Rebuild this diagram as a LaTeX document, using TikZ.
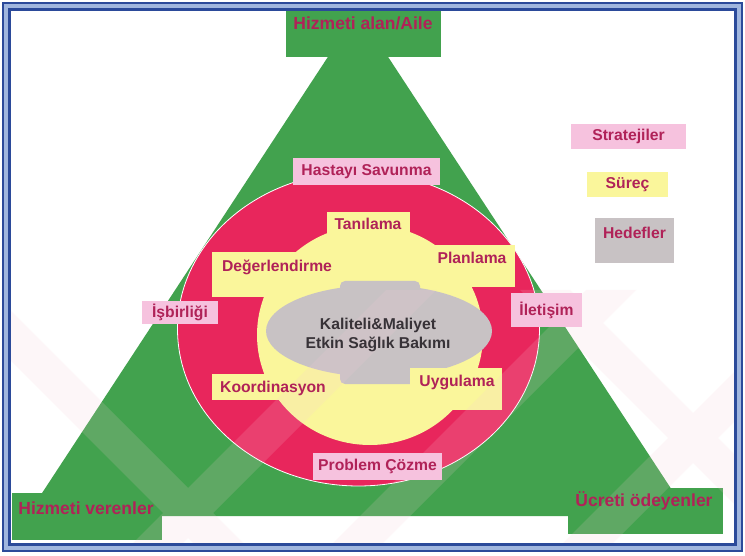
\documentclass[tikz,border=0pt]{standalone}
\usepackage{fontspec}
\setmainfont{Liberation Sans}
\definecolor{gr}{RGB}{66,162,78}
\definecolor{rd}{RGB}{232,38,92}
\definecolor{yl}{RGB}{250,246,155}
\definecolor{gy}{RGB}{200,194,196}
\definecolor{pk}{RGB}{246,194,222}
\definecolor{tx}{RGB}{176,34,88}
\definecolor{dk}{RGB}{55,50,55}
\definecolor{bl}{RGB}{43,74,154}
\definecolor{lb}{RGB}{160,182,222}
\definecolor{wm}{RGB}{248,205,215}
\tikzset{
  lab/.style={font=\fontsize{15.7}{19}\selectfont\bfseries, text=tx, inner sep=0pt},
  corner/.style={font=\fontsize{17.5}{20}\selectfont\bfseries, text=tx, inner sep=0pt},
  pbox/.style={lab, fill=pk},
  band/.style={fill=wm}
}
\begin{document}
\begin{tikzpicture}[x=1pt,y=-1pt]
\useasboundingbox (0,0) rectangle (745,556);
\fill[white] (0,0) rectangle (745,556);
% green triangle and corner boxes
\fill[gr] (358,11) -- (27,516) -- (689,516) -- cycle;
\fill[gr] (286,9) rectangle (441,57);
\fill[gr] (12,493) rectangle (162,540);
\fill[gr] (568,488) rectangle (723,534);
% red ellipse
\fill[rd, draw=white, line width=0.8pt] (358.5,329) ellipse [x radius=181pt, y radius=157pt];
% yellow process shape
\fill[yl] (370,335) ellipse [x radius=113pt, y radius=110pt];
\fill[yl] (327,212) rectangle (410,250);
\fill[yl] (212,252) rectangle (335,297);
\fill[yl] (427,245) rectangle (515,287);
\fill[yl] (212,374) rectangle (300,400);
% grey goal shape
\fill[gy] (379,331) ellipse [x radius=113pt, y radius=46pt];
\fill[gy, rounded corners=5pt] (340,281) rectangle (420,384);
\fill[yl] (410,368) rectangle (502,410);
% watermark bands
\begin{scope}[transparency group, opacity=0.16]
\clip (9,290) rectangle (736,545);
\fill[band] (-60,290) -- (-10,290) -- (246,546) -- (196,546) -- cycle;
\fill[band] (520,290) -- (570,290) -- (826,546) -- (776,546) -- cycle;
\fill[band] (130,546) -- (180,546) -- (436,290) -- (386,290) -- cycle;
\fill[band] (330,546) -- (380,546) -- (636,290) -- (586,290) -- cycle;
\fill[band] (560,546) -- (610,546) -- (866,290) -- (816,290) -- cycle;
\end{scope}
% corner labels
\node[corner] (aile) at (363,23) {Hizmeti alan/Aile};
\node[corner] (veren) at (86,508) {Hizmeti verenler};
\node[corner] (odeyen) at (644,501) {Ücreti ödeyenler};
% strategy boxes
\node[pbox, minimum width=147pt, minimum height=27pt] (savun) at (366.5,171.5) {Hastayı Savunma};
\node[pbox, minimum width=76pt, minimum height=23pt] (isbir) at (180,312.5) {İşbirliği};
\node[pbox, minimum width=71pt, minimum height=34pt] (ileti) at (546.5,310) {İletişim};
\node[pbox, minimum width=129pt, minimum height=27pt] (probl) at (377.5,466.5) {Problem Çözme};
% process labels
\node[lab] (tani) at (368,224) {Tanılama};
\node[lab] (degr) at (277,267) {Değerlendirme};
\node[lab] (plan) at (472,258) {Planlama};
\node[lab] (koor) at (273,388) {Koordinasyon};
\node[lab] (uygu) at (457,382) {Uygulama};
% goal
\node[lab, text=dk, align=center] (goal) at (378,334.5) {Kaliteli\&Maliyet\\Etkin Sağlık Bakımı};
% legend
\node[pbox, minimum width=115pt, minimum height=25pt] (strat) at (628.5,136.5) {Stratejiler};
\node[lab, fill=yl, minimum width=81pt, minimum height=25pt] (surec) at (627.5,184.5) {Süreç};
\node[fill=gy, minimum width=79pt, minimum height=45pt, inner sep=0pt] (hedbox) at (634.5,240.5) {};
\node[lab] (hedef) at (634.5,233) {Hedefler};
% frame
\fill[lb, even odd rule] (3,3) rectangle (742,551) (9,9) rectangle (736,545);
\draw[bl, line width=1.2pt] (3,3) rectangle (742,551);
\draw[bl, line width=2.4pt] (9.5,9.5) rectangle (735.5,544.5);
\end{tikzpicture}
\end{document}
